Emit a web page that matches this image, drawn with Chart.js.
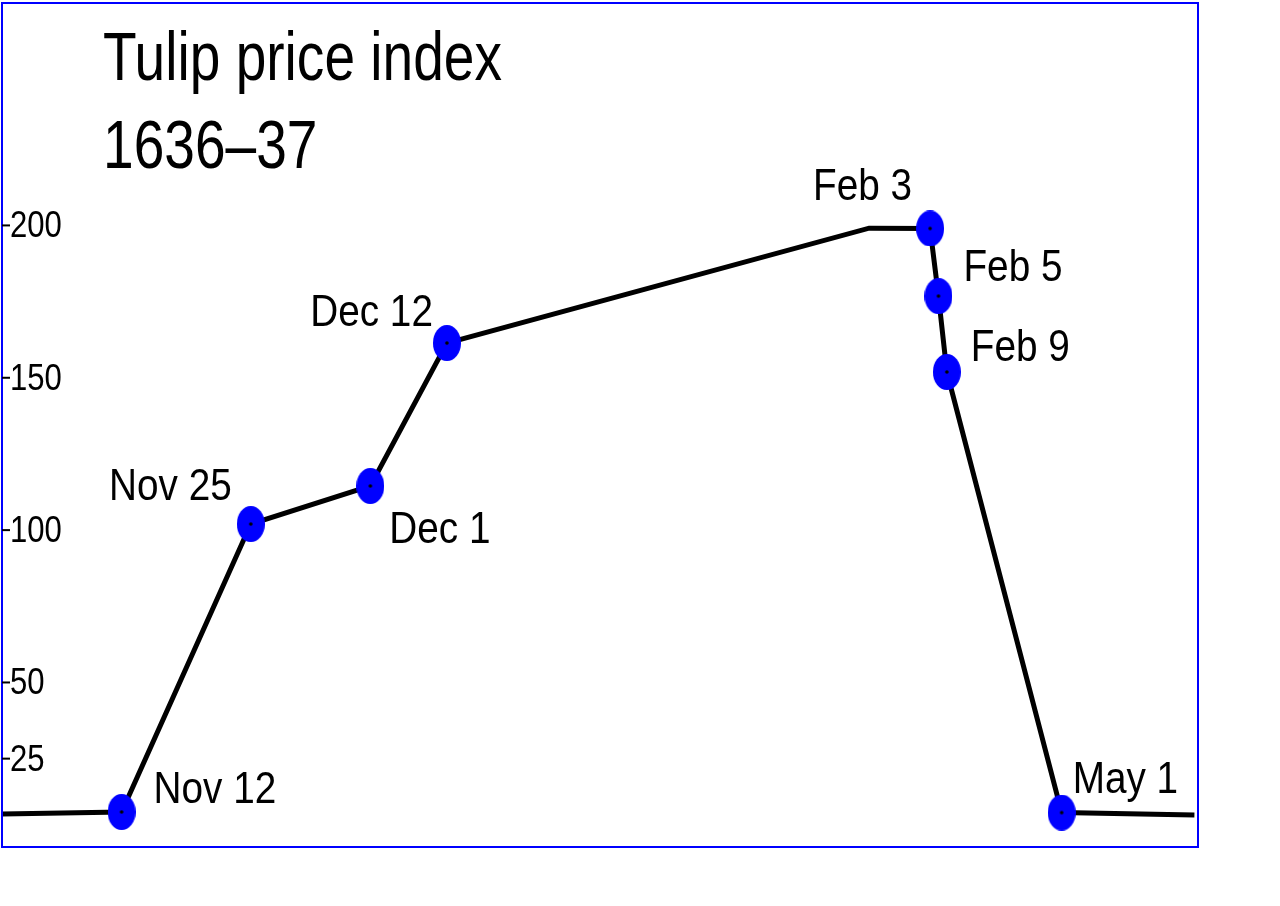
<!DOCTYPE html>
<html>
<head>
<meta charset="utf-8">
<script src="https://cdn.jsdelivr.net/npm/chart.js@4/dist/chart.umd.min.js"></script>
<style>
  body { margin: 0; background: #fff; }
</style>
</head>
<body>
<canvas id="tulipChart" width="1280" height="906"></canvas>
<script>
// position along the frame (0-100, not proportional to time in the original) and index value
let xPos = [0, 10.0, 20.8, 30.8, 37.2, 72.5, 77.6, 78.3, 79.0, 88.6, 99.7];
let prices = [6.8, 7.5, 102.0, 114.5, 161.4, 199.1, 199.0, 176.8, 151.9, 7.3, 6.5];
let pointNames = ['', 'Nov 12', 'Nov 25', 'Dec 1', 'Dec 12', '', 'Feb 3', 'Feb 5', 'Feb 9', 'May 1', ''];
let yTicks = [200, 150, 100, 50, 25];
let titleLines = ['Tulip price index', '1636\u201337'];

let fontFamily = '"Liberation Sans", Arial, sans-serif';

// label placement relative to each marker (baseline): [dx, dy, align]
let labelOffsets = {
  'Nov 12': [32, -9, 'left'],
  'Nov 25': [-19, -24, 'right'],
  'Dec 1': [19, 57, 'left'],
  'Dec 12': [-14, -17, 'right'],
  'Feb 3': [-18, -28, 'right'],
  'Feb 5': [25, -15, 'left'],
  'Feb 9': [24, -11, 'left'],
  'May 1': [11, -20, 'left']
};

// condensed text: regular face squeezed horizontally
function narrowText(c, text, x, y, size, squeeze, align) {
  c.save();
  c.font = size + 'px ' + fontFamily;
  c.textAlign = align;
  c.textBaseline = 'alphabetic';
  c.translate(x, y);
  c.scale(squeeze, 1);
  c.fillText(text, 0, 0);
  c.restore();
}

// blue oval marker with a black dot in the middle
let marker = document.createElement('canvas');
marker.width = 28;
marker.height = 36;
let mctx = marker.getContext('2d');
mctx.fillStyle = '#0000ff';
mctx.beginPath();
mctx.ellipse(14, 18, 14, 18, 0, 0, Math.PI * 2);
mctx.fill();
mctx.fillStyle = '#000';
mctx.beginPath();
mctx.arc(14, 18, 1.8, 0, Math.PI * 2);
mctx.fill();

let decorations = {
  id: 'decorations',
  beforeDraw(chart) {
    let c = chart.ctx;
    c.save();
    c.fillStyle = '#fff';
    c.fillRect(0, 0, chart.width, chart.height);
    c.restore();
  },
  afterDatasetsDraw(chart) {
    let c = chart.ctx;
    let area = chart.chartArea;
    let y = chart.scales.y;
    let meta = chart.getDatasetMeta(0);
    c.save();

    // frame
    c.strokeStyle = '#0000ff';
    c.lineWidth = 2;
    c.strokeRect(area.left, area.top, area.right - area.left, area.bottom - area.top);

    // y ticks
    c.strokeStyle = '#000';
    c.fillStyle = '#000';
    c.lineWidth = 2;
    yTicks.forEach((v) => {
      let py = y.getPixelForValue(v);
      c.beginPath();
      c.moveTo(area.left, py);
      c.lineTo(area.left + 8, py);
      c.stroke();
      narrowText(c, String(v), area.left + 8, py + 12, 37, 0.84, 'left');
    });

    // point labels
    pointNames.forEach((name, i) => {
      if (!name) return;
      let pt = meta.data[i];
      let off = labelOffsets[name];
      narrowText(c, name, pt.x + off[0], pt.y + off[1], 44, 0.88, off[2]);
    });

    // title
    titleLines.forEach((line, i) => {
      narrowText(c, line, 103, 80 + i * 88, 68, 0.81, 'left');
    });
    c.restore();
  }
};

let ctx = document.getElementById('tulipChart').getContext('2d');

let tulipChart = new Chart(ctx, {
  type: 'line',
  data: {
    datasets: [{
      data: xPos.map((x, i) => ({ x: x, y: prices[i] })),
      borderColor: '#000',
      borderWidth: 5,
      tension: 0,
      fill: false,
      pointStyle: marker,
      pointRadius: pointNames.map((n) => n ? 14 : 0),
      pointHoverRadius: pointNames.map((n) => n ? 14 : 0)
    }]
  },
  options: {
    responsive: false,
    animation: false,
    events: [],
    layout: {
      padding: { left: 2, top: 3, right: 82, bottom: 59 }
    },
    scales: {
      x: { type: 'linear', min: 0, max: 100, display: false },
      y: { type: 'linear', min: -4, max: 273, display: false }
    },
    plugins: {
      legend: { display: false },
      tooltip: { enabled: false }
    }
  },
  plugins: [decorations]
});
</script>
</body>
</html>
